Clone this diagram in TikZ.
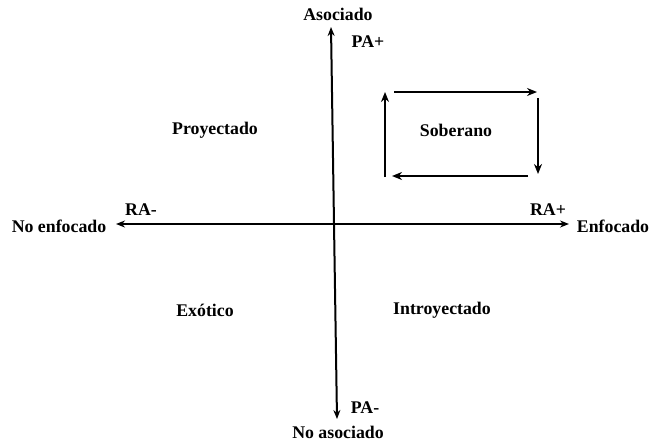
\documentclass[tikz,border=0pt]{standalone}
\usepackage{fontspec}
\setmainfont{Liberation Serif}
\usetikzlibrary{arrows.meta}

\begin{document}
\begin{tikzpicture}[x=1pt, y=-1pt, font=\bfseries\fontsize{17.8}{20}\selectfont,
    axis/.style={line width=2pt, -{Stealth[length=9pt, width=7pt]}},
    cyc/.style={line width=2.2pt, -{Stealth[length=10pt, width=8pt]}}]
            \useasboundingbox (0,0) rectangle (652,442);

            % axes ends
            \coordinate (O) at (334,224);
            \coordinate (T) at (331,27);
            \coordinate (B) at (337,419);
            \coordinate (L) at (116,224);
            \coordinate (R) at (569,224);

            \node (asoc) at (338,14) {Asociado};
            \node (noasoc) at (338,432) {No asociado};
            \node (enf) at (613,226) {Enfocado};
            \node (noenf) at (59,226) {No enfocado};
            \node (pamas) at (368,42) {PA+};
            \node (pamenos) at (365,408) {PA-};
            \node (ramenos) at (141,210) {RA-};
            \node (ramas) at (548,210) {RA+};

            \node (proy) at (215,130) {Proyectado};
            \node (sob) at (456,130) {Soberano};
            \node (exo) at (205,310) {Exótico};
            \node (intro) at (442,310) {Introyectado};

            \draw[axis] (O) -- (T);
            \draw[axis] (O) -- (B);
            \draw[axis] (O) -- (L);
            \draw[axis] (O) -- (R);

            % cycle around Soberano
            \coordinate (c1) at (394,92);
            \coordinate (c2) at (537,92);
            \coordinate (c3) at (538,98);
            \coordinate (c4) at (538,174);
            \coordinate (c5) at (528,176);
            \coordinate (c6) at (392,176);
            \coordinate (c7) at (385,177);
            \coordinate (c8) at (385,92);

            \draw[cyc] (c1) -- (c2);
            \draw[cyc] (c3) -- (c4);
            \draw[cyc] (c5) -- (c6);
            \draw[cyc] (c7) -- (c8);
        \end{tikzpicture}
\end{document}
